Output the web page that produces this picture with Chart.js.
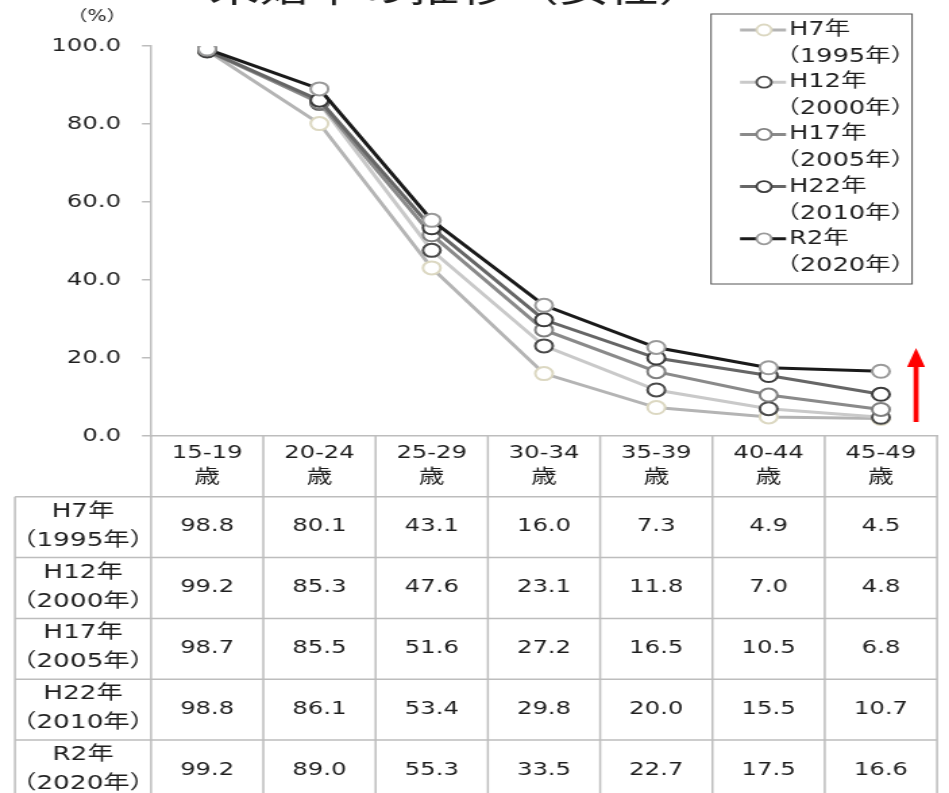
<!DOCTYPE html>
<html lang="ja">
<head>
<meta charset="utf-8">
<title>未婚率の推移（女性）</title>
<script src="https://cdn.jsdelivr.net/npm/chart.js@4/dist/chart.umd.min.js"></script>
<style>
  html, body { margin: 0; padding: 0; background: #fff; overflow: hidden; }
  /* the sheet is laid out narrow and widened horizontally, like the original slide */
  #wrap { position: absolute; left: 0; top: 0; width: 703px; height: 793px;
          transform: scaleX(1.35); transform-origin: 0 0; }
</style>
</head>
<body>
<div id="wrap"><canvas id="chart"></canvas></div>
<script>
// ---- data ----
const title = '未婚率の推移（女性）';
const unitLabel = '（%）';
const ageGroups = ['15-19', '20-24', '25-29', '30-34', '35-39', '40-44', '45-49'];
const ageSuffix = '歳';
const seriesNames = ['H7年', 'H12年', 'H17年', 'H22年', 'R2年'];
const seriesYears = ['（1995年）', '（2000年）', '（2005年）', '（2010年）', '（2020年）'];
const rateH7  = [98.8, 80.1, 43.1, 16.0, 7.3, 4.9, 4.5];
const rateH12 = [99.2, 85.3, 47.6, 23.1, 11.8, 7.0, 4.8];
const rateH17 = [98.7, 85.5, 51.6, 27.2, 16.5, 10.5, 6.8];
const rateH22 = [98.8, 86.1, 53.4, 29.8, 20.0, 15.5, 10.7];
const rateR2  = [99.2, 89.0, 55.3, 33.5, 22.7, 17.5, 16.6];
const yMin = 0, yMax = 100, yStep = 20;

// ---- styling ----
const SX = 949 / 703;              // horizontal widening of the sheet
const px = v => v / SX;            // screen x -> sheet x
const FONT = '"DejaVu Sans", "Noto Sans CJK JP", sans-serif';
const lineColors   = ['#b4b4b4', '#c9c9c9', '#8a8a8a', '#666666', '#1a1a1a'];
const markerColors = ['#dcd8c2', '#4a4a4a', '#808080', '#3c3c3c', '#9a9a9a'];
const gridColor = '#bdbdbd';
const textColor = '#1e1e1e';

const seriesValues = [rateH7, rateH12, rateH17, rateH22, rateR2];

const datasets = seriesValues.map((vals, i) => ({
  label: seriesNames[i] + seriesYears[i],
  data: vals,
  borderColor: lineColors[i],
  borderWidth: 3,
  pointRadius: 6.5,
  pointBorderWidth: 2,
  pointBorderColor: markerColors[i],
  pointBackgroundColor: '#ffffff',
  tension: 0,
  order: seriesValues.length - i   // later survey years are drawn on top
}));

const ROW_H = 60.8;

// table under the plot, legend box, title and arrow
const sheetPlugin = {
  id: 'sheet',
  afterDraw(chart) {
    const { ctx, scales: { x, y }, chartArea } = chart;
    const colW = x.getPixelForValue(1) - x.getPixelForValue(0);
    const left = chartArea.left;
    const right = chartArea.right;
    const tableLeft = px(15);
    const top = y.getPixelForValue(0);
    const bodyTop = top + ROW_H;
    const bottom = chart.height + 2;

    ctx.save();
    // grid lines of the data table
    ctx.strokeStyle = gridColor;
    ctx.lineWidth = 1.5;
    ctx.beginPath();
    for (let i = 0; i <= ageGroups.length; i++) {
      const xx = left + i * colW;
      ctx.moveTo(xx, top); ctx.lineTo(xx, bottom);
    }
    ctx.moveTo(tableLeft, bodyTop); ctx.lineTo(tableLeft, bottom);
    for (let r = 0; r < seriesNames.length; r++) {
      const yy = bodyTop + r * ROW_H;
      ctx.moveTo(tableLeft, yy); ctx.lineTo(right, yy);
    }
    ctx.stroke();

    ctx.fillStyle = textColor;
    ctx.textAlign = 'center';
    ctx.textBaseline = 'middle';
    // header: age groups
    ageGroups.forEach((g, i) => {
      const cx = x.getPixelForValue(i);
      ctx.font = '18px ' + FONT;
      ctx.fillText(g, cx, top + 17);
      ctx.font = '19px ' + FONT;
      ctx.fillText(ageSuffix, cx, top + 42);
    });
    // rows: survey year labels and values
    const labelX = (tableLeft + left) / 2;
    seriesValues.forEach((vals, r) => {
      const rt = bodyTop + r * ROW_H;
      ctx.font = '19.5px ' + FONT;
      ctx.fillText(seriesNames[r], labelX, rt + 15);
      ctx.fillText(seriesYears[r], labelX, rt + 44);
      ctx.font = '18px ' + FONT;
      vals.forEach((v, i) => {
        ctx.fillText(v.toFixed(1), x.getPixelForValue(i), rt + 30);
      });
    });

    // unit label above the y axis
    ctx.font = '15px ' + FONT;
    ctx.fillText(unitLabel, px(97), 17);

    // title, running off the top edge
    ctx.font = '37px "Noto Sans CJK JP", sans-serif';
    ctx.textBaseline = 'alphabetic';
    ctx.fillText(title, px(459), 2);

    // legend box
    const lx0 = px(711), lx1 = px(912), ly0 = 14, ly1 = 284;
    ctx.strokeStyle = '#555555';
    ctx.lineWidth = 1;
    ctx.strokeRect(lx0, ly0, lx1 - lx0, ly1 - ly0);
    ctx.textAlign = 'left';
    ctx.textBaseline = 'middle';
    ctx.font = '19px ' + FONT;
    datasets.forEach((ds, i) => {
      const cy = 30 + i * 52.2;
      ctx.strokeStyle = ds.borderColor;
      ctx.lineWidth = 3;
      ctx.beginPath();
      ctx.moveTo(px(740), cy); ctx.lineTo(px(786), cy);
      ctx.stroke();
      ctx.beginPath();
      ctx.arc(px(764), cy, 5.5, 0, Math.PI * 2);
      ctx.fillStyle = '#ffffff';
      ctx.fill();
      ctx.strokeStyle = ds.pointBorderColor;
      ctx.lineWidth = 1.8;
      ctx.stroke();
      ctx.fillStyle = textColor;
      ctx.fillText(seriesNames[i], px(789), cy);
      ctx.fillText(seriesYears[i], px(789) - 11, cy + 27);
    });

    // red arrow
    const ax = px(916);
    ctx.fillStyle = '#ff0000';
    ctx.fillRect(ax - px(5) / 2, 366, px(5), 56);
    ctx.beginPath();
    ctx.moveTo(ax, 348);
    ctx.lineTo(ax + px(9), 367);
    ctx.lineTo(ax - px(9), 367);
    ctx.closePath();
    ctx.fill();
    ctx.restore();
  }
};

new Chart(document.getElementById('chart'), {
  type: 'line',
  data: { labels: ageGroups, datasets },
  plugins: [sheetPlugin],
  options: {
    responsive: true,
    maintainAspectRatio: false,
    animation: false,
    events: [],
    layout: { padding: { left: 0, top: 46, right: 703 - px(937), bottom: 793 - 436 } },
    plugins: { legend: { display: false }, tooltip: { enabled: false } },
    scales: {
      x: {
        type: 'category',
        offset: true,
        ticks: { display: false },
        grid: { display: false, drawTicks: false },
        border: { display: true, color: gridColor, width: 1.5 },
        afterFit(scale) { scale.height = 0; }
      },
      y: {
        min: yMin,
        max: yMax,
        ticks: {
          stepSize: yStep,
          color: textColor,
          font: { family: FONT, size: 18 },
          padding: px(21),
          callback: v => Number(v).toFixed(1)
        },
        grid: { drawOnChartArea: false, drawTicks: true, tickLength: px(9), color: gridColor, lineWidth: 1.5 },
        border: { display: true, color: gridColor, width: 1.5 },
        afterFit(scale) { scale.width = px(151); }
      }
    }
  }
});
</script>
</body>
</html>
